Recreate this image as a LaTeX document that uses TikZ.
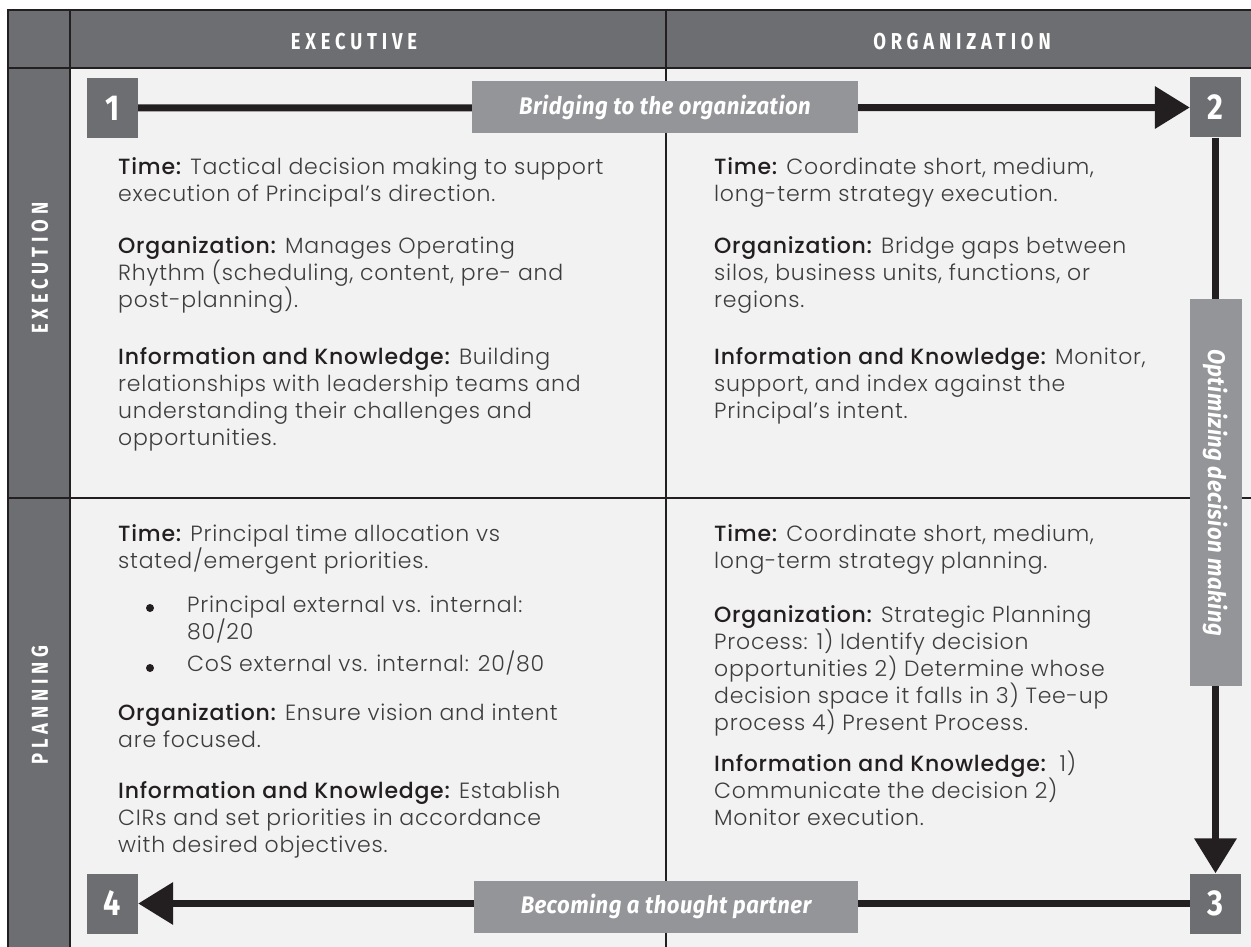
\documentclass[tikz,border=0pt]{standalone}
\usepackage{fontspec}
\setmainfont{Poppins}[UprightFont={* Light}, BoldFont={* Medium}]
\newfontfamily\condfont[FakeStretch=0.8]{Fira Sans}
\newfontfamily\numfont[FakeStretch=0.85]{Fira Sans}
\newfontfamily\labfont[FakeStretch=0.92, LetterSpace=2]{Fira Sans}
\usetikzlibrary{arrows.meta}
\definecolor{ink}{HTML}{231F20}
\definecolor{hdr}{HTML}{6D6E71}
\definecolor{labg}{HTML}{939598}
\definecolor{cellbg}{HTML}{F2F2F2}
\definecolor{bodytxt}{HTML}{3D3D3E}
\newcommand{\lbl}[1]{{\color{ink}\bfseries #1}}
\tikzset{
  gridline/.style={ink, line width=2pt},
  numbox/.style={fill=hdr, text=white, minimum width=51pt, minimum height=60pt, inner sep=0pt,
    font=\numfont\bfseries\fontsize{36}{36}\selectfont},
  flowarrow/.style={ink, line width=7pt, -{Triangle[length=35pt,width=41pt]}},
  labbox/.style={fill=labg, text=white, inner sep=0pt, minimum height=52pt,
    font=\labfont\bfseries\itshape\fontsize{24}{24}\selectfont},
  hdrtxt/.style={text=white, inner sep=0pt, font=\condfont\bfseries\addfontfeatures{LetterSpace=21}\fontsize{23}{23}\selectfont},
  para/.style={anchor=north west, inner sep=0pt, align=left, text=bodytxt,
    font=\addfontfeatures{LetterSpace=3.5}\fontsize{22}{27}\selectfont},
  dot/.style={circle, fill=ink, inner sep=0pt, minimum size=8pt}
}
\begin{document}
\begin{tikzpicture}[x=1pt,y=-1pt]
\useasboundingbox (0,0) rectangle (1251,947);
\fill[white] (0,0) rectangle (1251,947);
\fill[cellbg] (8,10) rectangle (1251,947);
\fill[hdr] (8,10) rectangle (1251,68);
\fill[hdr] (8,68) rectangle (70,947);
\draw[gridline] (8,947) -- (8,10) -- (1251,10);
\draw[gridline] (8,68) -- (1251,68);
\draw[gridline] (8,498) -- (1251,498);
\draw[gridline] (70,10) -- (70,947);
\draw[gridline] (666,10) -- (666,947);

% headers
\node[hdrtxt] (hexec) at (354,42) {EXECUTIVE};
\node[hdrtxt] (horg) at (962,42) {ORGANIZATION};
\node[hdrtxt, rotate=90] (rexec) at (40,268) {EXECUTION};
\node[hdrtxt, rotate=90] (rplan) at (40,705) {PLANNING};

% number boxes
\node[numbox] (n1) at (112.5,108) {1};
\node[numbox] (n2) at (1215.5,107.5) {2};
\node[numbox] (n3) at (1215.5,903.5) {3};
\node[numbox] (n4) at (112.5,903.5) {4};

% arrows
\draw[flowarrow] (n1.east) -- (n2.west);
\draw[flowarrow] (n2.south) -- (n3.north);
\draw[flowarrow] (n3.west) -- (n4.east);

% arrow labels
\node[labbox, minimum width=386pt] (b12) at (665,107) {Bridging to the organization};
\node[labbox, minimum width=387pt, rotate=-90] (b23) at (1216,492.5) {Optimizing decision making};
\node[labbox, minimum width=384pt] (b34) at (666,906.5) {Becoming a thought partner};

% top-left cell
\node[para] (tl1) at (118,157) {\lbl{Time:} Tactical decision making to support\\execution of Principal’s direction.};
\node[para] (tl2) at (118,236) {\lbl{Organization:} Manages Operating\\Rhythm (scheduling, content, pre- and\\post-planning).};
\node[para] (tl3) at (118,347) {\lbl{Information and Knowledge:} Building\\relationships with leadership teams and\\understanding their challenges and\\opportunities.};

% top-right cell
\node[para] (tr1) at (714,157) {\lbl{Time:} Coordinate short, medium,\\long-term strategy execution.};
\node[para] (tr2) at (714,236) {\lbl{Organization:} Bridge gaps between\\silos, business units, functions, or\\regions.};
\node[para] (tr3) at (714,347) {\lbl{Information and Knowledge:} Monitor,\\support, and index against the\\Principal’s intent.};

% bottom-left cell
\node[para] (bl1) at (118,524) {\lbl{Time:} Principal time allocation vs\\stated/emergent priorities.};
\node[dot] (d1) at (150,608) {};
\node[para] (bl2) at (187,596) {Principal external vs. internal:\\80/20};
\node[dot] (d2) at (150,668) {};
\node[para] (bl3) at (187,651) {CoS external vs. internal: 20/80};
\node[para] (bl4) at (118,703) {\lbl{Organization:} Ensure vision and intent\\are focused.};
\node[para] (bl5) at (118,781) {\lbl{Information and Knowledge:} Establish\\CIRs and set priorities in accordance\\with desired objectives.};

% bottom-right cell
\node[para] (br1) at (714,524) {\lbl{Time:} Coordinate short, medium,\\long-term strategy planning.};
\node[para] (br2) at (714,605) {\lbl{Organization:} Strategic Planning\\Process: 1) Identify decision\\opportunities 2) Determine whose\\decision space it falls in 3) Tee-up\\process 4) Present Process.};
\node[para] (br3) at (714,751) {\lbl{Information and Knowledge:}~~1)\\Communicate the decision 2)\\Monitor execution.};
\end{tikzpicture}
\end{document}
